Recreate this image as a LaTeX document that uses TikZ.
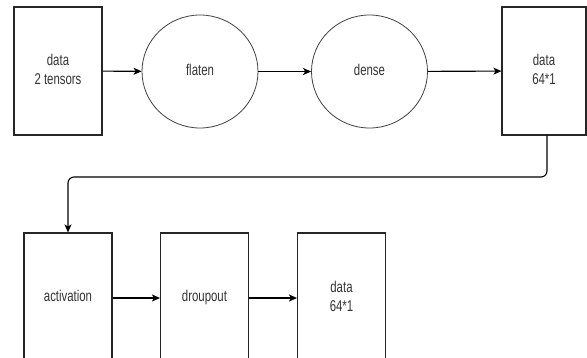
\documentclass[tikz,border=0pt]{standalone}
\usepackage{fontspec}
\setmainfont{Liberation Sans}
\usetikzlibrary{arrows.meta,shapes.geometric}
% labels are set in a tall, narrow style
\newcommand{\tall}[1]{\scalebox{0.95}[1.3]{\begin{tabular}{@{}c@{}}#1\end{tabular}}}
\begin{document}
\begin{tikzpicture}[x=1pt,y=-1pt,
  every node/.style={font=\fontsize{12}{15}\selectfont, text=black!80, align=center, inner sep=0pt},
  block/.style={draw=black!85, line width=1.1pt, minimum width=88pt, minimum height=128pt},
  oval/.style={draw=black!75, line width=0.8pt, ellipse, minimum width=116pt, minimum height=113pt},
  link/.style={draw=black, line width=1.1pt, -{Stealth[length=8pt,width=7pt,inset=2pt]}}
]
\useasboundingbox (0,0) rectangle (587,357);
% top row
\node[block] (d1) at (58,71) {\tall{data\\2 tensors}};
\node[oval] (fl) at (200,71.5) {\tall{flaten}};
\node[oval] (de) at (369.5,71.5) {\tall{dense}};
\node[block, minimum width=84pt] (d2) at (544,71) {\tall{data\\64*1}};
% bottom row
\node[block, minimum height=130pt] (ac) at (68,298) {\tall{activation}};
\node[block, minimum height=130pt] (dr) at (204.5,298) {\tall{droupout}};
\node[block, minimum height=130pt] (d3) at (341.5,298) {\raisebox{10pt}{\tall{data\\64*1}}};
\coordinate (turn) at (0,177);
% connectors
\draw[link] (d1) -- (fl);
\draw[link] (fl) -- (de);
\draw[link] (de) -- (d2);
\draw[link, rounded corners=6pt] (d2.south -| 547,0) |- (turn -| ac.north) -- (ac.north);
\draw[link] (ac) -- (dr);
\draw[link] (dr) -- (d3);
\end{tikzpicture}
\end{document}
